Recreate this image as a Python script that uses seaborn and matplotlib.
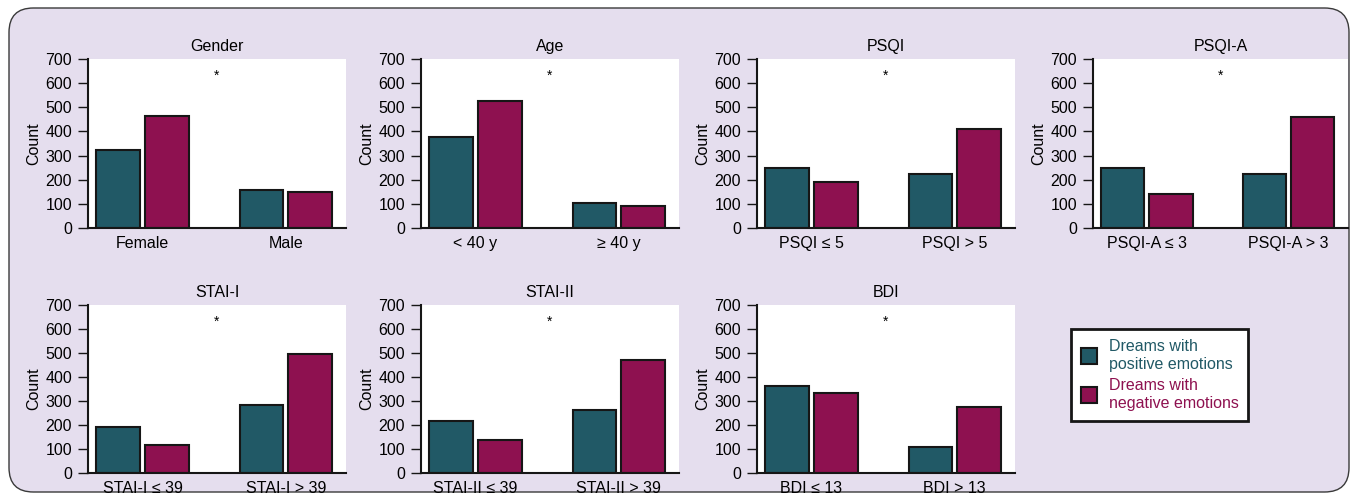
import matplotlib
matplotlib.use("Agg")
import matplotlib.pyplot as plt
from matplotlib.patches import FancyBboxPatch, Patch
import pandas as pd
import seaborn as sns

# values
panel_titles = ["Gender", "Age", "PSQI", "PSQI-A", "STAI-I", "STAI-II", "BDI"]
group_labels = [
    ["Female", "Male"],
    ["< 40 y", "≥ 40 y"],
    ["PSQI ≤ 5", "PSQI > 5"],
    ["PSQI-A ≤ 3", "PSQI-A > 3"],
    ["STAI-I ≤ 39", "STAI-I > 39"],
    ["STAI-II ≤ 39", "STAI-II > 39"],
    ["BDI ≤ 13", "BDI > 13"],
]
positive_counts = [[322, 156], [375, 104], [248, 224], [248, 224], [192, 282], [216, 263], [361, 107]]
negative_counts = [[465, 149], [526, 93], [192, 408], [141, 458], [118, 497], [138, 472], [335, 273]]
series_names = ["Dreams with\npositive emotions", "Dreams with\nnegative emotions"]

POS_COLOR = "#215966"
NEG_COLOR = "#8E1150"
BG_COLOR = "#E5DEEE"
EDGE = "#161616"
FS = 11.5

sns.set_theme(style="white")
plt.rcParams["font.family"] = ["Liberation Sans", "DejaVu Sans"]
plt.rcParams.update({"text.color": "black", "axes.labelcolor": "black",
                     "xtick.color": "black", "ytick.color": "black"})

W, H = 1354, 500
fig = plt.figure(figsize=(W / 100, H / 100), dpi=100, facecolor="white")

# rounded lavender panel behind everything
bg = FancyBboxPatch((9 / W, 8 / H), 1340 / W, 484 / H,
                    boxstyle="round,pad=0,rounding_size=0.018",
                    transform=fig.transFigure, facecolor=BG_COLOR,
                    edgecolor="#3a3a3a", linewidth=1.0, zorder=-10,
                    mutation_aspect=W / H)
fig.patches.append(bg)

col_left = [88, 421, 757, 1093]
col_width = [258, 258, 258, 255]
rows = [(59, 228), (305, 473)]


def draw_panel(ax, title, labels, pos, neg):
    df = pd.DataFrame({
        "group": labels * 2,
        "count": pos + neg,
        "emotion": [series_names[0]] * 2 + [series_names[1]] * 2,
    })
    sns.barplot(data=df, x="group", y="count", hue="emotion", order=labels,
                hue_order=series_names, palette=[POS_COLOR, NEG_COLOR],
                width=0.68, gap=0.1, edgecolor=EDGE, linewidth=1.5,
                saturation=1, legend=False, ax=ax)
    ax.set_facecolor("white")
    ax.set_xlim(-0.38, 1.42)
    ax.set_ylim(0, 700)
    ax.set_yticks(range(0, 701, 100))
    ax.set_xlabel("")
    ax.set_ylabel("Count", fontsize=FS, labelpad=3)
    ax.set_title(title, fontsize=FS, pad=6)
    for s in ["top", "right"]:
        ax.spines[s].set_visible(False)
    for s in ["left", "bottom"]:
        ax.spines[s].set_color(EDGE)
        ax.spines[s].set_linewidth(1.5)
    ax.tick_params(axis="y", direction="out", length=7, width=1, color=EDGE,
                   labelsize=FS, pad=4.5, left=True)
    ax.tick_params(axis="x", length=0, labelsize=FS, pad=5.5)
    ax.text(0.5, 0.9, "*", transform=ax.transAxes, ha="center", va="center",
            fontsize=10)


for i, title in enumerate(panel_titles):
    r, c = divmod(i, 4)
    top, bottom = rows[r]
    ax = fig.add_axes([col_left[c] / W, 1 - bottom / H, col_width[c] / W, (bottom - top) / H])
    draw_panel(ax, title, group_labels[i], positive_counts[i], negative_counts[i])

handles = [Patch(facecolor=POS_COLOR, edgecolor=EDGE, linewidth=1.5),
           Patch(facecolor=NEG_COLOR, edgecolor=EDGE, linewidth=1.5)]
leg = fig.legend(handles, series_names, loc="upper left",
                 bbox_to_anchor=(1071 / W, 1 - 329 / H),
                 frameon=True, fancybox=False, fontsize=FS, framealpha=1,
                 handlelength=1.0, handleheight=1.2, handletextpad=0.75,
                 labelspacing=0.4, borderpad=0.6, borderaxespad=0,
                 labelcolor=[POS_COLOR, NEG_COLOR])
for t in leg.get_texts():
    t.set_linespacing(1.25)
leg.get_frame().set_edgecolor(EDGE)
leg.get_frame().set_linewidth(2)
leg.get_frame().set_facecolor("white")

fig.savefig("out.png", dpi=100, facecolor="white")
